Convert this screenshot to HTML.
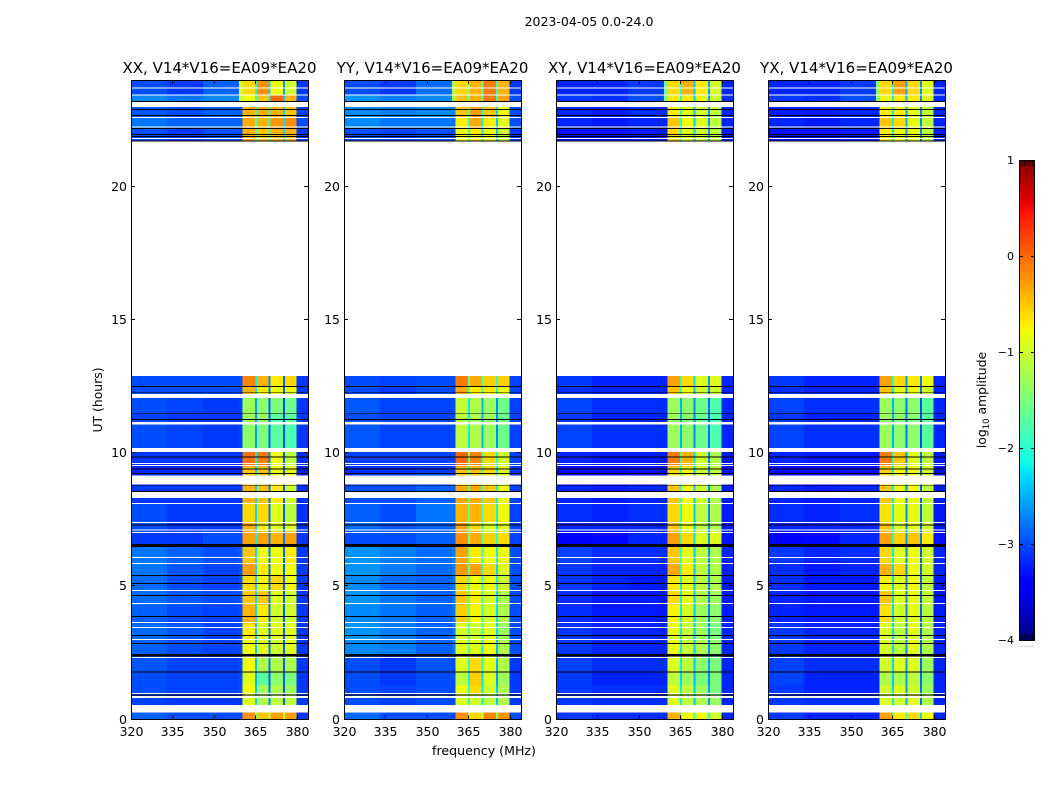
<!DOCTYPE html>
<html lang="en">
<head>
<meta charset="utf-8">
<title>2023-04-05 amplitude waterfall</title>
<style>
html,body{margin:0;padding:0;background:#fff;}
svg{display:block;}
text{font-family:"DejaVu Sans","Liberation Sans",sans-serif;fill:#000;}
</style>
</head>
<body>
<svg id="figure" xmlns="http://www.w3.org/2000/svg" width="1050" height="800" viewBox="0 0 1050 800">
  <rect x="0" y="0" width="1050" height="800" fill="#fff"/>
  <text x="589" y="26" font-size="12.5" text-anchor="middle">2023-04-05 0.0-24.0</text>
  <text x="484" y="755" font-size="12.6" text-anchor="middle">frequency (MHz)</text>
  <text transform="translate(102,400) rotate(-90)" font-size="12.4" text-anchor="middle">UT (hours)</text>
  <text transform="translate(986,400) rotate(-90)" font-size="12.4" text-anchor="middle">log<tspan font-size="8.5" dy="3">10</tspan><tspan dy="-3"> amplitude</tspan></text>
  <g id="panels"></g>
  <g id="colorbar"></g>
</svg>
<script>
// ---- chart data ----
const panelTitles = ["XX, V14*V16=EA09*EA20", "YY, V14*V16=EA09*EA20", "XY, V14*V16=EA09*EA20", "YX, V14*V16=EA09*EA20"];
const xTicks = [320, 335, 350, 365, 380];
const yTicks = [0, 5, 10, 15, 20];
const colorbarTicks = [-4, -3, -2, -1, 0, 1];
const freqEdges = [320, 333, 346, 359, 360.4, 364.8, 365.5, 369.8, 370.5, 374.9, 375.6, 379.9, 384];
const utEdges = [0, .26, .9, 1.3, 1.8, 2.4, 3, 3.6, 4.3, 4.8, 5.4, 5.9, 6.5, 7.05, 7.4, 8.1, 8.8, 9.5, 10.05, 11.1, 11.5, 12.1, 12.5, 12.9, 21.7, 22.2, 22.6, 23, 23.45, 24];
const flaggedWhite = [[.263,.544],[.807,.882],[.957,.994],[2.308,2.345],[2.983,3.02],[3.433,3.47],[3.62,3.658],[4.334,4.372],[4.822,4.859],[5.835,5.872],[6.06,6.098],[6.998,7.036],[7.092,7.13],[7.373,7.411],[8.086,8.124],[8.311,8.537],[8.818,9.156],[9.512,9.55],[9.587,9.625],[10.038,10.188],[11.069,11.163],[12.075,12.225],[21.79,21.83],[22.21,22.25],[22.57,22.62],[22.99,23.17],[23.41,23.45],[23.68,23.71]];
const flaggedBlack = [[.9,.94],[1.76,1.8],[2.364,2.458],[2.83,2.87],[3.13,3.17],[3.85,3.89],[4.63,4.67],[5.08,5.12],[5.38,5.42],[6.47,6.59],[7.28,7.32],[8.54,8.58],[8.76,8.79],[9.21,9.25],[9.38,9.42],[9.83,9.87],[11.24,11.27],[11.46,11.49],[12.25,12.28],[12.48,12.52],[21.7,21.73],[21.86,21.9],[21.93,21.97],[22.17,22.2],[22.65,22.69],[22.87,22.91],[23.17,23.21]];
// log10 amplitude: one row per UT band, one value per frequency band
const ampXX = [
[-2.9,-3,-3,-3,-.2,-1.5,-.5,-1.2,-.3,-1.2,-.3,-3.1],
[-3.05,-3.1,-3.1,-3.1,-.9,-2.3,-1.2,-2.7,-1.1,-2.9,-1.1,-3.1],
[-3,-3.05,-3.05,-3,-.8,-2.4,-1.3,-2.8,-1.2,-2.9,-1.3,-3.1],
[-3,-3.05,-3.05,-3,-.9,-2.5,-1.7,-2.9,-1.4,-2.9,-1.5,-3.1],
[-2.95,-3.05,-3.05,-3,-.8,-2.4,-1.2,-2.8,-1.2,-2.9,-1.2,-3.1],
[-2.9,-3,-3.05,-3,-.8,-2.4,-.9,-2.8,-1,-2.9,-.9,-3.1],
[-2.85,-2.95,-3.05,-3,-.7,-2.4,-.9,-2.8,-.9,-2.9,-.9,-3.1],
[-2.9,-3,-3.05,-3,-.4,-2.3,-.7,-2.8,-1,-2.9,-1,-3.1],
[-2.85,-2.95,-3,-2.9,-.5,-2.3,-.5,-2.8,-.9,-2.9,-1,-3.1],
[-2.85,-3,-3.05,-2.95,-.6,-2.3,-.75,-2.8,-.6,-2.9,-.8,-3.1],
[-2.8,-2.95,-3.05,-2.95,-.3,-2.3,-.7,-2.8,-.8,-2.9,-.8,-3.1],
[-2.8,-2.9,-3,-2.9,-.5,-2.3,-.8,-2.8,-.8,-2.9,-.7,-3.1],
[-3.1,-3.1,-3,-3,-.3,-2.2,-.3,-2.7,-.4,-2.8,-.3,-3.1],
[-3,-3.1,-3.1,-3.1,-.4,-2.3,-.7,-2.8,-.9,-2.9,-.9,-3.15],
[-3,-3.1,-3.1,-3.1,-.6,-2.3,-.6,-2.8,-.9,-2.9,-1.1,-3.15],
[-3.1,-3.1,-3.1,-3.1,-.4,-2.3,-.5,-2.8,-.7,-2.9,-1,-3.15],
[-3.2,-3.2,-3.2,-3.2,-.5,-2.3,-.5,-2.8,-.8,-2.9,-.8,-3.2],
[-3.1,-3.1,-3.1,-3.1,-.05,-2.2,-.1,-2.7,-.8,-2.9,-1.1,-3.15],
[-3,-3.05,-3.1,-3.05,-1.4,-2.6,-1.5,-2.9,-1.7,-3,-1.8,-3.1],
[-3.05,-3.1,-3.1,-3.1,-1.3,-2.6,-1.3,-2.9,-1.7,-3,-1.7,-3.1],
[-3,-3.05,-3.1,-3.05,-1.3,-2.6,-1.4,-2.9,-1.5,-3,-1.6,-3.1],
[-3,-3,-3,-3,-.4,-2.2,-.7,-2.7,-.8,-2.9,-.8,-3.1],
[-3,-3,-3,-3,-.15,-2.2,-.4,-2.7,-.7,-2.9,-.6,-3.1],
null,
[-3,-3.1,-3,-3,-.4,-1.8,-.5,-2,-.4,-2.3,-.4,-3.1],
[-2.8,-2.9,-2.9,-2.9,-.35,-1.8,-.4,-2,-.25,-2.3,-.2,-3],
[-2.95,-3,-2.9,-2.9,-.4,-1.8,-.35,-2,-.4,-2.3,-.5,-3.05],
[-2.7,-2.8,-2.7,-1,-.8,-2,-.5,-2.2,0,-2.4,-.4,-3],
[-3,-3.1,-2.9,-1,-.6,-2,-.2,-2.3,-.8,-2.6,-1,-3.1]
];
const ampYY = [
[-2.85,-3,-3,-3,-.2,-1.2,-.6,-1.2,-.15,-1.5,-.25,-3],
[-3,-3.05,-3,-3,-.9,-2,-1,-2.2,-1.1,-2.4,-1.2,-3.1],
[-3,-3.05,-3,-3,-.85,-2,-.6,-2.2,-1,-2.4,-1.2,-3.1],
[-3,-3.1,-3,-3,-1.1,-2.2,-.55,-2.3,-.9,-2.6,-1.3,-3.1],
[-3,-3.1,-2.95,-3,-.9,-2,-.6,-2.1,-.85,-2.5,-1.2,-3.1],
[-2.7,-2.75,-2.9,-2.8,-.9,-1.8,-.9,-2.2,-.8,-2.5,-1.2,-3],
[-2.65,-2.75,-2.9,-2.8,-.95,-1.9,-1,-2,-.9,-2.3,-1.3,-3],
[-2.7,-2.8,-2.9,-2.8,-.55,-1.7,-.75,-2,-.95,-2.3,-1.2,-3],
[-2.65,-2.8,-2.9,-2.8,-.5,-1.7,-.7,-2,-.95,-2.3,-1.2,-3],
[-2.7,-2.85,-2.9,-2.8,-.6,-1.7,-.8,-2,-.8,-2.2,-1,-3],
[-2.65,-2.75,-2.85,-2.75,-.25,-1.7,-.3,-2,-.6,-2.3,-.9,-3],
[-2.65,-2.75,-2.85,-2.75,-.3,-1.6,-.7,-2,-.8,-2.2,-.8,-3],
[-3,-3,-2.9,-2.9,-.2,-1.5,-.35,-1.8,-.55,-2.1,-.6,-3.05],
[-2.85,-2.95,-2.9,-2.9,-.3,-1.7,-.6,-2,-.9,-2.2,-.9,-3.05],
[-2.9,-3,-2.8,-2.8,-.4,-1.6,-.4,-1.9,-.6,-2.2,-.8,-3.05],
[-3,-3,-2.9,-2.9,-.35,-1.7,-.35,-1.9,-.5,-2.2,-.8,-3.05],
[-3.15,-3.15,-3.1,-3.1,-.5,-1.8,-.5,-2,-.6,-2.2,-.9,-3.1],
[-3.05,-3.05,-3.05,-3.05,0,-1.6,-.15,-1.8,-.6,-2.1,-1,-3.05],
[-2.95,-3.05,-3.05,-3,-1.1,-2.2,-1.2,-2.5,-1.3,-2.7,-1.6,-3.05],
[-3,-3.05,-3.05,-3,-1.1,-2.2,-1.2,-2.5,-1.3,-2.7,-1.6,-3.05],
[-2.95,-3.05,-3.05,-3,-1.05,-2.2,-1.2,-2.5,-1.3,-2.7,-1.6,-3.05],
[-3,-3.1,-3,-3,-.35,-1.7,-.7,-1.9,-.7,-2.1,-.8,-3.05],
[-3,-3.05,-3,-3,-.1,-1.6,-.35,-1.8,-.55,-2,-.55,-3.05],
null,
[-3,-3.05,-3,-3,-.8,-2,-.7,-2.2,-.8,-2.4,-1,-3.1],
[-2.7,-2.8,-2.8,-2.8,-.7,-2,-.35,-2.2,-.7,-2.4,-.9,-3],
[-2.7,-2.75,-2.7,-2.7,-.5,-1.8,-.3,-2.1,-.5,-2.3,-.8,-3],
[-2.65,-2.75,-2.7,-1.2,-.5,-1.6,-.4,-1.8,-.1,-2.1,-.3,-3],
[-3,-3.1,-2.85,-1.1,-.6,-1.5,-.4,-1.7,-.1,-2,-.4,-3.1]
];
const ampXY = [
[-3.1,-3.15,-3.15,-3.15,-.4,-1.8,-.8,-1.9,-.8,-2.1,-1,-3.2],
[-3.1,-3.15,-3.15,-3.15,-.9,-2.2,-1.1,-2.4,-1.2,-2.6,-1.3,-3.2],
[-3.1,-3.15,-3.15,-3.15,-.9,-2.2,-1.1,-2.4,-1.3,-2.6,-1.5,-3.2],
[-3.1,-3.2,-3.2,-3.2,-1.1,-2.3,-1.3,-2.5,-1.5,-2.7,-1.5,-3.2],
[-3.05,-3.15,-3.15,-3.15,-.9,-2.2,-1.1,-2.4,-1.4,-2.6,-1.5,-3.2],
[-3.1,-3.2,-3.2,-3.2,-.85,-2.2,-1.05,-2.4,-1.2,-2.7,-1.4,-3.2],
[-3.1,-3.2,-3.2,-3.2,-.85,-2.2,-1.05,-2.4,-1.3,-2.7,-1.5,-3.2],
[-3.15,-3.25,-3.25,-3.25,-.75,-2.2,-.95,-2.4,-1.3,-2.7,-1.4,-3.25],
[-3.15,-3.25,-3.25,-3.25,-.6,-2.2,-.85,-2.4,-1.2,-2.7,-1.3,-3.25],
[-3.1,-3.2,-3.25,-3.25,-.7,-2.2,-.85,-2.4,-1.1,-2.7,-1.2,-3.25],
[-3.1,-3.2,-3.2,-3.2,-.35,-2,-.7,-2.4,-1.1,-2.7,-1.2,-3.2],
[-3.05,-3.15,-3.15,-3.15,-.5,-2,-.85,-2.4,-1.1,-2.7,-1.2,-3.2],
[-3.4,-3.35,-3.2,-3.2,-.3,-1.9,-.6,-2.3,-.9,-2.6,-.9,-3.3],
[-3.2,-3.2,-3.2,-3.2,-.5,-2,-.8,-2.4,-1.1,-2.7,-1.2,-3.25],
[-3.15,-3.2,-3.15,-3.15,-.6,-2,-.8,-2.4,-1.1,-2.7,-1.2,-3.25],
[-3.2,-3.25,-3.2,-3.2,-.5,-2,-.8,-2.4,-1,-2.7,-1.2,-3.25],
[-3.35,-3.35,-3.3,-3.3,-.6,-2.1,-.75,-2.4,-1,-2.7,-1.1,-3.3],
[-3.2,-3.25,-3.25,-3.25,-.1,-1.9,-.4,-2.3,-1,-2.7,-1.2,-3.25],
[-3.05,-3.15,-3.15,-3.15,-1.3,-2.5,-1.4,-2.7,-1.6,-2.9,-1.8,-3.2],
[-3.1,-3.2,-3.2,-3.2,-1.3,-2.5,-1.4,-2.7,-1.6,-2.9,-1.8,-3.2],
[-3.05,-3.15,-3.15,-3.15,-1.3,-2.5,-1.4,-2.7,-1.6,-2.9,-1.8,-3.2],
[-3.15,-3.2,-3.2,-3.2,-.5,-2,-.8,-2.4,-1,-2.7,-1,-3.2],
[-3.1,-3.2,-3.2,-3.2,-.3,-1.9,-.6,-2.3,-.9,-2.6,-.9,-3.2],
null,
[-3.3,-3.3,-3.25,-3.25,-.6,-2.1,-.9,-2.4,-1,-2.6,-1.1,-3.25],
[-3.2,-3.25,-3.2,-3.2,-.5,-2.1,-.8,-2.4,-.9,-2.6,-1.1,-3.2],
[-3.2,-3.25,-3.15,-3.15,-.7,-2.1,-.9,-2.4,-1,-2.6,-1.1,-3.2],
[-3.1,-3.15,-3,-1.6,-.7,-2.1,-.7,-2.4,-.8,-2.6,-1,-3.15],
[-3.2,-3.2,-3.1,-1.6,-.6,-2.1,-.4,-2.4,-.7,-2.6,-1,-3.2]
];
const ampYX = [
[-3.1,-3.2,-3.2,-3.2,-.3,-1.8,-.7,-2,-.6,-2.3,-.8,-3.2],
[-3.1,-3.15,-3.15,-3.15,-.9,-2.2,-1,-2.5,-.9,-2.8,-1.2,-3.2],
[-3.1,-3.2,-3.2,-3.2,-1,-2.3,-.9,-2.6,-1,-2.8,-1.3,-3.2],
[-3.05,-3.2,-3.2,-3.2,-1.2,-2.4,-1.2,-2.6,-1.1,-2.9,-1.4,-3.2],
[-3.05,-3.15,-3.15,-3.15,-1,-2.3,-.9,-2.6,-.9,-2.9,-1.3,-3.2],
[-3.1,-3.2,-3.2,-3.2,-.95,-2.3,-1.1,-2.7,-.85,-2.9,-1.2,-3.2],
[-3.1,-3.2,-3.2,-3.2,-.9,-2.3,-1.1,-2.7,-.85,-2.9,-1.2,-3.2],
[-3.2,-3.25,-3.25,-3.25,-.65,-2.3,-1,-2.7,-.85,-2.9,-1.15,-3.25],
[-3.2,-3.25,-3.25,-3.25,-.5,-2.3,-.9,-2.7,-.85,-2.9,-1.1,-3.25],
[-3.15,-3.25,-3.25,-3.25,-.75,-2.3,-.9,-2.7,-.8,-2.9,-1.1,-3.25],
[-3.15,-3.25,-3.2,-3.2,-.4,-2.3,-.6,-2.7,-.8,-2.9,-1,-3.2],
[-3.1,-3.2,-3.15,-3.15,-.6,-2.2,-.9,-2.7,-.8,-2.9,-1,-3.2],
[-3.4,-3.35,-3.2,-3.2,-.3,-2.1,-.55,-2.6,-.5,-2.8,-.7,-3.3],
[-3.2,-3.2,-3.2,-3.2,-.5,-2.2,-.9,-2.7,-.85,-2.9,-1,-3.25],
[-3.15,-3.2,-3.15,-3.15,-.65,-2.2,-.85,-2.7,-.85,-2.9,-1.1,-3.25],
[-3.2,-3.25,-3.2,-3.2,-.5,-2.2,-.85,-2.7,-.8,-2.9,-1.1,-3.25],
[-3.35,-3.35,-3.3,-3.3,-.55,-2.2,-.75,-2.7,-.8,-2.9,-1,-3.3],
[-3.2,-3.25,-3.25,-3.25,-.1,-2.1,-.5,-2.6,-.9,-2.8,-1.1,-3.25],
[-3.05,-3.15,-3.15,-3.15,-1.3,-2.5,-1.4,-2.8,-1.4,-3,-1.7,-3.2],
[-3.1,-3.2,-3.2,-3.2,-1.3,-2.5,-1.4,-2.8,-1.4,-3,-1.7,-3.2],
[-3.05,-3.15,-3.15,-3.15,-1.3,-2.5,-1.4,-2.8,-1.4,-3,-1.7,-3.2],
[-3.15,-3.2,-3.2,-3.2,-.5,-2.2,-.85,-2.6,-.8,-2.8,-1,-3.2],
[-3.1,-3.2,-3.2,-3.2,-.3,-2.1,-.6,-2.6,-.7,-2.8,-.8,-3.2],
null,
[-3.3,-3.3,-3.25,-3.25,-.7,-2.2,-.8,-2.5,-.8,-2.7,-1.1,-3.25],
[-3.2,-3.25,-3.2,-3.2,-.5,-2.2,-.6,-2.5,-.85,-2.7,-1.1,-3.2],
[-3.25,-3.25,-3.2,-3.2,-.7,-2.2,-.7,-2.5,-.85,-2.7,-1.1,-3.2],
[-3.1,-3.15,-3,-1.4,-.8,-2.2,-.7,-2.5,-.7,-2.7,-.9,-3.15],
[-3.2,-3.2,-3.1,-1.4,-.6,-2.2,-.3,-2.5,-.6,-2.7,-.9,-3.2]
];
const panelData = [ampXX, ampYY, ampXY, ampYX];

// ---- scales ----
const SVG_NS = "http://www.w3.org/2000/svg";
const plotTop = 80, plotBottom = 719.5, plotWidth = 177, panelStep = 212.35, firstLeft = 131.3;
const freqMin = 320, freqMax = 384, utMin = 0, utMax = 24, ampMin = -4, ampMax = 1;
const cbLeft = 1019, cbRight = 1035, cbTop = 160, cbBottom = 640;
const jetRed = [[0,0],[.35,0],[.66,1],[.89,1],[1,.5]];
const jetGreen = [[0,0],[.125,0],[.375,1],[.64,1],[.91,0],[1,0]];
const jetBlue = [[0,.5],[.11,1],[.34,1],[.65,0],[1,0]];
function panelLeft(i) { return Math.round(firstLeft + panelStep * i); }
function xScale(i, f) { return panelLeft(i) + (f - freqMin) / (freqMax - freqMin) * plotWidth; }
function yScale(t) { return plotBottom - (t - utMin) / (utMax - utMin) * (plotBottom - plotTop); }
function cbScale(v) { return cbBottom - (v - ampMin) / (ampMax - ampMin) * (cbBottom - cbTop); }
function clamp01(x) { return Math.max(0, Math.min(1, x)); }
function segment(stops, n) {
  for (let i = 1; i < stops.length; i++) {
    if (n <= stops[i][0]) {
      const a = stops[i - 1], b = stops[i];
      return a[1] + (b[1] - a[1]) * (n - a[0]) / (b[0] - a[0]);
    }
  }
  return stops[stops.length - 1][1];
}
function jet(v) {
  const n = clamp01((v - ampMin) / (ampMax - ampMin));
  return "rgb(" + Math.round(segment(jetRed, n) * 255) + "," + Math.round(segment(jetGreen, n) * 255) + "," + Math.round(segment(jetBlue, n) * 255) + ")";
}
function mk(parent, tag, attrs) {
  const el = document.createElementNS(SVG_NS, tag);
  for (const k in attrs) el.setAttribute(k, attrs[k]);
  parent.appendChild(el);
  return el;
}
function tickLabel(v) { return String(v).replace("-", "\u2212"); }

// ---- panels ----
const panelsRoot = document.getElementById("panels");
panelData.forEach(function (matrix, p) {
  const left = panelLeft(p), right = left + plotWidth;
  const g = mk(panelsRoot, "g", {});
  
  

  matrix.forEach(function (row, r) {
    if (!row) return;
    row.forEach(function (value, c) {
      const x0 = xScale(p, freqEdges[c]), x1 = xScale(p, freqEdges[c + 1]);
      const y0 = yScale(utEdges[r + 1]), y1 = yScale(utEdges[r]);
      const cell = mk(g, "rect", { x: x0, y: y0, width: x1 - x0, height: y1 - y0, fill: jet(value), "shape-rendering": "crispEdges" });
      
      
    });
  });

  flaggedWhite.forEach(function (band) {
    const y0 = yScale(band[1]), y1 = yScale(band[0]);
    const gap = mk(g, "rect", { x: left, y: y0, width: plotWidth, height: y1 - y0, fill: "#fff", "shape-rendering": "crispEdges" });
    
    
  });
  flaggedBlack.forEach(function (band) {
    const y0 = yScale(band[1]), y1 = yScale(band[0]);
    const line = mk(g, "rect", { x: left, y: y0, width: plotWidth, height: y1 - y0, fill: "#000", "shape-rendering": "crispEdges" });
    
    
  });

  const title = mk(g, "text", { x: left + plotWidth / 2, y: 73, "font-size": 15, "text-anchor": "middle" });
  
  
  title.textContent = panelTitles[p];

  xTicks.forEach(function (f) {
    const x = Math.round(xScale(p, f)) + 0.5;
    const tb = mk(g, "line", { x1: x, x2: x, y1: plotBottom, y2: plotBottom - 4, stroke: "#000", "stroke-width": 1 });
    
    
    const tt = mk(g, "line", { x1: x, x2: x, y1: plotTop, y2: plotTop + 4, stroke: "#000", "stroke-width": 1 });
    
    
    const lab = mk(g, "text", { x: x, y: 736, "font-size": 12.5, "text-anchor": "middle" });
    
    
    lab.textContent = tickLabel(f);
  });
  yTicks.forEach(function (t) {
    const y = Math.round(yScale(t)) - 0.5;
    const tl = mk(g, "line", { x1: left, x2: left + 4, y1: y, y2: y, stroke: "#000", "stroke-width": 1 });
    
    
    const tr = mk(g, "line", { x1: right, x2: right - 4, y1: y, y2: y, stroke: "#000", "stroke-width": 1 });
    
    
    const lab = mk(g, "text", { x: left - 4, y: y + 4.5, "font-size": 12.5, "text-anchor": "end" });
    
    
    lab.textContent = tickLabel(t);
  });

  const frame = mk(g, "rect", { x: left + 0.5, y: plotTop + 0.5, width: plotWidth, height: plotBottom - plotTop - 0.5, fill: "none", stroke: "#000", "stroke-width": 1 });
  
  
});

// ---- colorbar ----
const cbRoot = document.getElementById("colorbar");
for (let py = cbTop; py < cbBottom; py += 2) {
  const v = ampMax - (py + 1 - cbTop) / (cbBottom - cbTop) * (ampMax - ampMin);
  const sw = mk(cbRoot, "rect", { x: cbLeft, y: py, width: cbRight - cbLeft, height: 2, fill: jet(v), "shape-rendering": "crispEdges" });
  
  
}
colorbarTicks.forEach(function (v) {
  const y = Math.round(cbScale(v)) + 0.5;
  const a = mk(cbRoot, "line", { x1: cbLeft, x2: cbLeft + 4, y1: y, y2: y, stroke: "#000" });
  
  
  const b = mk(cbRoot, "line", { x1: cbRight, x2: cbRight - 4, y1: y, y2: y, stroke: "#000" });
  
  
  const lab = mk(cbRoot, "text", { x: 1014, y: y + 3.5, "font-size": 11, "text-anchor": "end" });
  
  
  lab.textContent = tickLabel(v);
});
for (let k = 1; k <= 5; k++) {
  const mx = cbLeft + k * (cbRight - cbLeft) / 6 + 0.5;
  const topMinor = mk(cbRoot, "line", { x1: mx, x2: mx, y1: cbTop, y2: cbTop + 6, stroke: "#000" });
  
  
  const bottomMinor = mk(cbRoot, "line", { x1: mx, x2: mx, y1: cbBottom, y2: cbBottom - 6, stroke: "#000" });
  
  
  const dot = mk(cbRoot, "rect", { x: mx - 0.5, y: 646, width: 1, height: 1, fill: "#999" });
  
  
}
const cbFrame = mk(cbRoot, "rect", { x: cbLeft + 0.5, y: cbTop + 0.5, width: cbRight - cbLeft - 1, height: cbBottom - cbTop, fill: "none", stroke: "#000" });


</script>
</body>
</html>
